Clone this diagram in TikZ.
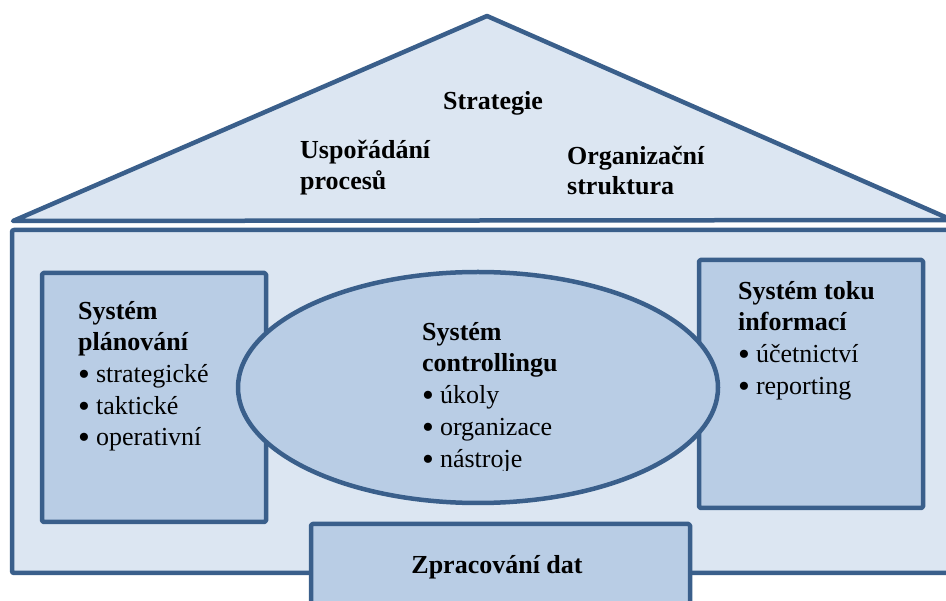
\documentclass[tikz,border=0pt]{standalone}
\usepackage{fontspec}
\setmainfont{Liberation Serif}
\usetikzlibrary{shapes.geometric}
\definecolor{edgeblue}{HTML}{3A5F8B}
\definecolor{paleblue}{HTML}{DCE6F2}
\definecolor{midblue}{HTML}{B9CDE5}
% list bullet, a little heavier than the font's own
\newcommand{\itembullet}{\raisebox{-2.8pt}{\scalebox{1.3}{•}}\hspace{6pt}}
\begin{document}
\begin{tikzpicture}[x=1pt,y=-1pt,
  outline/.style={draw=edgeblue,line width=4.5pt,line join=round},
  panel/.style={outline,fill=midblue,inner sep=0pt,rounded corners=1.5pt},
  txt/.style={inner sep=0pt,anchor=base west,font=\fontsize{26}{32}\selectfont},
  head/.style={inner sep=0pt,anchor=base west,font=\fontsize{26}{32}\selectfont\bfseries}]
\useasboundingbox (0,0) rectangle (946,601);
\clip (0,0) rectangle (946,601);

% roof
\draw[outline,fill=paleblue] (13,221) -- (487,16) -- (952,220) -- cycle;
% house body
\draw[outline,fill=paleblue,rounded corners=2pt] (12,230) rectangle (990,573);

% panels
\node[panel,minimum width=224pt,minimum height=249pt] (plan) at (154,397.5) {};
\node[panel,minimum width=224pt,minimum height=248pt] (info) at (811,384) {};
\node[outline,fill=midblue,ellipse,inner sep=0pt,minimum width=480pt,minimum height=231pt] (ctrl) at (478,387.5) {};
\node[panel,minimum width=379pt,minimum height=116pt] (data) at (500.5,582) {};

% roof labels
\node[head,anchor=base] (strat) at (493,110) {Strategie};
\node[head] (proc1) at (300,159) {Uspořádání};
\node[head] (proc2) at (300,190) {procesů};
\node[head] (org1) at (567,165) {Organizační};
\node[head] (org2) at (567,195) {struktura};

% planning system
\node[head] (p1) at (78,320) {Systém};
\node[head] (p2) at (78,351) {plánování};
\node[txt] (p3) at (78,383) {\itembullet strategické};
\node[txt] (p4) at (78,415) {\itembullet taktické};
\node[txt] (p5) at (78,446) {\itembullet operativní};

% controlling system
\node[head] (c1) at (422,341) {Systém};
\node[head] (c2) at (422,372) {controllingu};
\node[txt] (c3) at (422,404) {\itembullet úkoly};
\node[txt] (c4) at (422,436) {\itembullet organizace};
\begin{scope}
  \clip (400,440) rectangle (600,471);
  \node[txt] (c5) at (422,468) {\itembullet nástroje};
\end{scope}

% information flow system
\node[head] (i1) at (738,300) {Systém toku};
\node[head] (i2) at (738,331) {informací};
\node[txt] (i3) at (738,363) {\itembullet účetnictví};
\node[txt] (i4) at (738,395) {\itembullet reporting};

% data processing
\node[head,anchor=base] (d1) at (497,573) {Zpracování dat};
\end{tikzpicture}
\end{document}
